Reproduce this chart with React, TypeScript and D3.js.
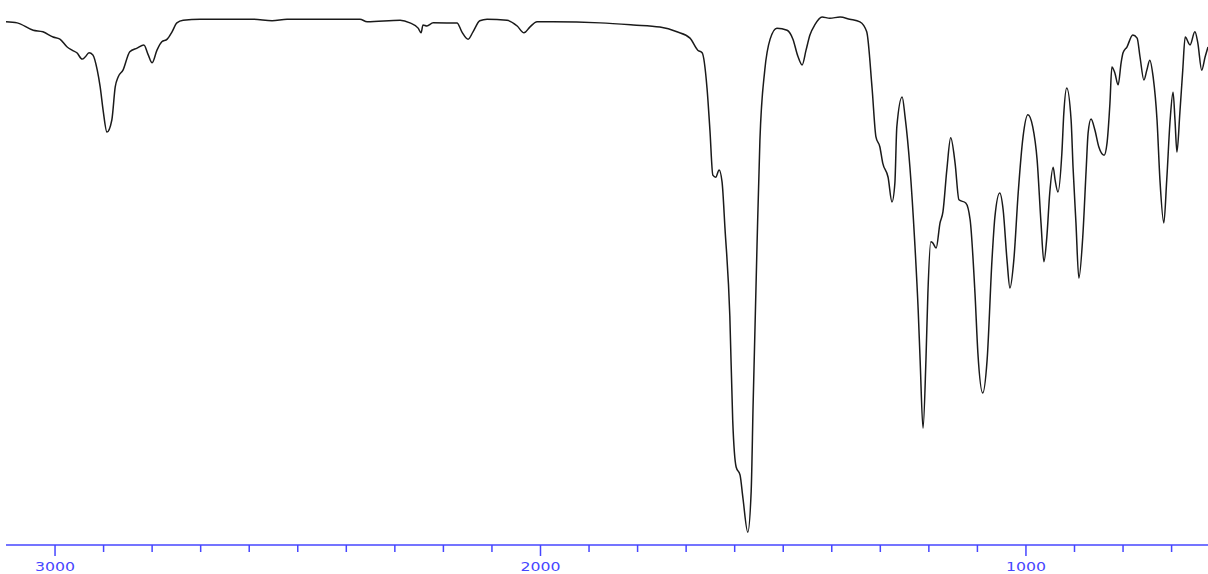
import React from "react";
import * as d3 from "d3";

const wavenumbers = [
  3101, 3078, 3045, 3025, 3004, 2990, 2975, 2965, 2955, 2944, 2938, 2930, 2922, 2913, 2907, 2901, 2893, 2883, 2876, 2870,
  2860, 2846, 2831, 2817, 2808, 2800, 2790, 2780, 2769, 2759, 2749, 2736, 2701, 2633, 2592, 2553, 2522, 2495, 2372, 2357,
  2289, 2269, 2252, 2246, 2242, 2234, 2221, 2193, 2172, 2162, 2149, 2139, 2125, 2110, 2069, 2048, 2034, 2022, 2007, 1974,
  1877, 1809, 1754, 1719, 1692, 1676, 1667, 1657, 1651, 1645, 1639, 1632, 1626, 1620, 1610, 1604, 1597, 1589, 1583, 1573,
  1566, 1562, 1554, 1548, 1538, 1527, 1513, 1492, 1480, 1470, 1461, 1453, 1445, 1435, 1420, 1404, 1383, 1363, 1342, 1328,
  1317, 1309, 1301, 1295, 1284, 1276, 1270, 1266, 1255, 1249, 1239, 1229, 1222, 1218, 1212, 1206, 1202, 1196, 1192, 1185,
  1177, 1171, 1163, 1155, 1146, 1138, 1124, 1115, 1105, 1099, 1089, 1080, 1070, 1064, 1054, 1047, 1039, 1033, 1025, 1016,
  1006, 996, 986, 977, 969, 963, 957, 951, 944, 940, 934, 926, 922, 916, 907, 903, 897, 891, 883, 876,
  872, 866, 858, 850, 839, 833, 827, 823, 817, 810, 804, 800, 792, 780, 771, 765, 757, 751, 745, 738,
  730, 724, 716, 710, 703, 697, 693, 689, 683, 677, 672, 662, 652, 646, 638, 631, 625,
];

const transmittance = [
  98.7, 98.5, 97.1, 96.8, 95.8, 95.4, 93.9, 93.3, 92.8, 91.6, 92.0, 92.8, 92.4, 89.5, 86.3, 81.9, 77.7, 80.0, 86.3, 88.2,
  89.5, 93.0, 93.7, 94.3, 92.4, 90.9, 93.3, 94.9, 95.4, 96.8, 98.5, 99.0, 99.2, 99.2, 99.2, 98.9, 99.2, 99.2, 99.2, 98.7,
  99.0, 98.5, 97.5, 96.6, 98.1, 97.9, 98.5, 98.5, 98.5, 96.8, 95.4, 96.8, 98.9, 99.2, 99.0, 97.9, 96.6, 97.7, 98.7, 98.7,
  98.5, 98.1, 97.7, 96.8, 95.6, 93.3, 92.8, 86.1, 78.1, 69.5, 69.1, 70.5, 68.2, 59.4, 42.7, 22.7, 13.9, 12.4, 8.0, 1.5,
  9.3, 25.9, 56.0, 76.2, 89.5, 95.4, 97.5, 97.1, 95.4, 92.2, 90.5, 93.3, 96.2, 98.1, 99.6, 99.4, 99.6, 99.2, 98.7, 96.8,
  86.1, 76.8, 74.9, 71.8, 69.1, 64.4, 68.0, 78.7, 84.4, 80.6, 71.0, 56.6, 43.8, 34.3, 21.3, 34.3, 47.0, 56.8, 56.6, 55.6,
  60.4, 62.5, 70.5, 76.6, 71.8, 64.8, 64.2, 61.0, 47.0, 35.6, 28.0, 34.3, 53.3, 61.5, 66.1, 62.9, 53.3, 48.0, 53.3, 66.1,
  76.8, 81.0, 78.7, 72.4, 60.4, 53.0, 57.7, 66.1, 71.0, 68.6, 66.3, 73.7, 81.3, 86.1, 80.0, 71.0, 60.4, 49.9, 57.7, 70.5,
  77.5, 80.2, 78.1, 74.9, 73.3, 75.6, 83.2, 90.1, 89.0, 86.7, 90.9, 92.8, 93.9, 96.2, 95.6, 92.0, 87.6, 89.5, 91.4, 88.2,
  80.0, 68.6, 60.4, 68.6, 80.0, 85.3, 80.0, 73.9, 81.3, 89.5, 95.8, 94.3, 96.8, 94.7, 89.5, 92.0, 93.9,
];

const tickValues = [3000, 2900, 2800, 2700, 2600, 2500, 2400, 2300, 2200, 2100, 2000, 1900, 1800, 1700, 1600, 1500, 1400, 1300, 1200, 1100, 1000, 900, 800, 700];
const tickLabels = [3000, 2000, 1000];

const W = 1208;
const H = 574;
const AXIS_BLUE = "#4646ff";

export default function App() {
  const x = d3.scaleLinear().domain([3101, 625]).range([6, 1208]);
  const y = d3.scaleLinear().domain([0, 100]).range([540, 15]);
  const data = wavenumbers.map((w, i) => [w, transmittance[i]] as [number, number]);
  const line = d3
    .line<[number, number]>()
    .x((d) => x(d[0]))
    .y((d) => y(d[1]))
    .curve(d3.curveMonotoneX);
  const axisY = 545;

  return (
    <svg
      width={W}
      height={H}
      style={{ position: "absolute", left: 0, top: 0, background: "#fff" }}
    >
      <path d={line(data) || ""} fill="none" stroke="#1a1a1a" strokeWidth={1.5} strokeLinejoin="round" />
      <line x1={6} x2={1208} y1={axisY} y2={axisY} stroke={AXIS_BLUE} strokeWidth={1.5} />
      {tickValues.map((t) => {
        const major = tickLabels.includes(t);
        return (
          <line
            key={t}
            x1={x(t)}
            x2={x(t)}
            y1={axisY}
            y2={axisY + (major ? 11 : 7)}
            stroke={AXIS_BLUE}
            strokeWidth={1.5}
          />
        );
      })}
      {tickLabels.map((t) => (
        <text
          key={t}
          x={x(t)}
          y={571}
          textAnchor="middle"
          fontFamily="DejaVu Sans, Verdana, sans-serif"
          fontSize={12}
          textLength={40}
          lengthAdjust="spacingAndGlyphs"
          fill={AXIS_BLUE}
        >
          {t}
        </text>
      ))}
    </svg>
  );
}
